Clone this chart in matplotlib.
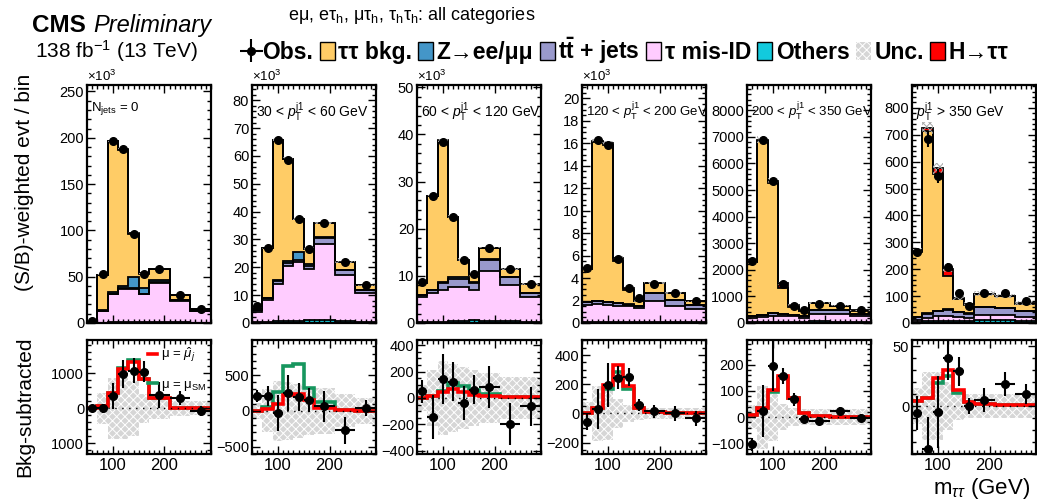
import numpy as np
import matplotlib
matplotlib.use('Agg')
import matplotlib.pyplot as plt
from matplotlib.patches import Patch
from matplotlib.lines import Line2D
from matplotlib.ticker import MultipleLocator, FuncFormatter

plt.rcParams['font.family'] = ['Liberation Sans', 'DejaVu Sans']
plt.rcParams['mathtext.fontset'] = 'custom'
plt.rcParams['mathtext.rm'] = 'Liberation Sans'
plt.rcParams['mathtext.it'] = 'Liberation Sans:italic'
plt.rcParams['mathtext.bf'] = 'Liberation Sans:bold'
plt.rcParams['hatch.linewidth'] = 0.7

# m_tautau binning (GeV)
edges = np.array([50, 70, 90, 110, 130, 150, 170, 210, 250, 290])

panel_labels = [r'N$_{\rm jets}$ = 0',
                r'30 < $p_{\rm T}^{\rm j1}$ < 60 GeV',
                r'60 < $p_{\rm T}^{\rm j1}$ < 120 GeV',
                r'120 < $p_{\rm T}^{\rm j1}$ < 200 GeV',
                r'200 < $p_{\rm T}^{\rm j1}$ < 350 GeV',
                r'$p_{\rm T}^{\rm j1}$ > 350 GeV']
label_size = [9.5, 10, 10, 9.5, 9.5, 10]
scaled = [True, True, True, True, False, False]   # panels drawn in units of 10^3
top_ymax = [257, 85.5, 50.5, 21.2, 8950, 885]
top_major = [50, 10, 10, 2, 1000, 100]
top_minor = [10, 2, 2, 0.5, 200, 20]

# ---- upper panels: (S/B)-weighted stacked backgrounds ----
others = [[0.3, 0.5, 0.8, 1.0, 1.2, 1.5, 1.2, 0.8, 0.5],
          [0.3, 0.5, 0.7, 0.8, 0.8, 0.9, 1.2, 0.7, 0.5],
          [0.2, 0.3, 0.3, 0.4, 0.5, 0.6, 0.5, 0.4, 0.3],
          [0.05, 0.05, 0.06, 0.07, 0.08, 0.1, 0.12, 0.08, 0.06],
          [20, 25, 30, 30, 30, 40, 60, 50, 30],
          [5, 6, 7, 8, 8, 8, 12, 10, 8]]
misid = [[0.5, 12.0, 30.2, 35.5, 35.8, 29.5, 41.8, 23.2, 12.0],
         [3.7, 7.9, 13.4, 19.7, 21.2, 18.4, 27.3, 16.6, 10.2],
         [5.4, 6.0, 6.8, 7.3, 7.2, 6.4, 10.5, 7.6, 5.2],
         [1.58, 1.64, 1.57, 1.47, 1.40, 1.23, 1.80, 1.40, 1.22],
         [170, 200, 245, 220, 220, 150, 280, 290, 220],
         [5, 12, 18, 18, 14, 10, 19, 18, 14]]
ttbar = [[0.1, 0.5, 0.8, 1.0, 1.0, 0.8, 1.2, 0.8, 0.5],
         [0.5, 0.6, 0.9, 1.0, 0.8, 1.0, 2.0, 1.7, 1.1],
         [0.3, 0.7, 1.3, 1.7, 1.7, 1.5, 2.4, 1.8, 0.9],
         [0.21, 0.24, 0.21, 0.24, 0.15, 0.15, 0.75, 0.59, 0.35],
         [60, 88, 100, 90, 63, 60, 160, 160, 90],
         [12, 17, 19, 24, 18, 17, 28, 27, 21]]
zll = [[0.1, 0.5, 1.2, 2.5, 12.0, 5.5, 1.8, 0.5, 0.5],
       [0.1, 0.1, 0.3, 0.8, 2.7, 0.9, 0.3, 0.1, 0.1],
       [0.05, 0.1, 0.2, 0.3, 0.4, 0.2, 0.1, 0.05, 0.05],
       [0.02, 0.02, 0.03, 0.04, 0.05, 0.04, 0.02, 0.01, 0.01],
       [5, 5, 5, 5, 5, 5, 5, 5, 5],
       [1, 1, 1, 1, 1, 1, 1, 1, 1]]
tautau = [[0.5, 38.5, 163.0, 147.0, 46.0, 15.7, 12.0, 4.7, 1.5],
          [0.9, 17.9, 50.5, 36.5, 11.8, 5.4, 5.2, 2.9, 1.6],
          [2.55, 19.9, 30.1, 12.8, 3.6, 1.5, 2.5, 1.65, 1.75],
          [2.94, 14.2, 13.98, 3.68, 1.27, 0.4, 0.86, 0.59, 0.31],
          [2025, 6542, 4870, 985, 282, 185, 240, 145, 125],
          [242, 679, 508, 123, 47, 32, 48, 44, 28]]
higgs = [[0.0, 0.07, 0.43, 1.11, 1.31, 0.83, 0.29, 0.0, 0.0],
         [0.0, 0.03, 0.1, 0.22, 0.23, 0.15, 0.05, 0.01, 0.0],
         [0.0, 0.01, 0.05, 0.07, 0.04, 0.03, 0.01, 0.0, 0.0],
         [0.01, 0.04, 0.2, 0.33, 0.19, 0.035, 0.01, 0.0, 0.0],
         [9, 34, 105, 158, 73, 15, 5, 2, 2],
         [4, 10, 22, 25, 6, 3, 1.5, 1, 1]]
unc_top = [[0.1, 0.5, 1.0, 1.0, 0.8, 0.5, 0.4, 0.3, 0.2],
           [0.1, 0.3, 0.5, 0.5, 0.4, 0.4, 0.4, 0.3, 0.2],
           [0.1, 0.2, 0.3, 0.3, 0.3, 0.2, 0.2, 0.2, 0.2],
           [0.08, 0.2, 0.2, 0.1, 0.06, 0.05, 0.05, 0.05, 0.05],
           [45, 120, 90, 50, 35, 30, 30, 30, 30],
           [10, 22, 20, 10, 8, 7, 8, 8, 7]]
obs = [[2.0, 53, 197, 188, 96, 53, 58, 30, 15],
       [6.0, 27.1, 65.7, 58.7, 37.3, 26.5, 36.1, 22.0, 13.5],
       [8.7, 27.0, 38.5, 22.5, 13.4, 10.3, 16.0, 11.4, 8.2],
       [4.9, 16.3, 15.85, 5.7, 3.1, 2.2, 3.5, 2.7, 2.0],
       [2320, 6900, 5355, 1480, 650, 475, 730, 635, 480],
       [265, 683, 547, 207, 111, 62, 111, 111, 81]]
obs_err = [[0.1, 0.3, 0.5, 0.5, 0.4, 0.3, 0.3, 0.2, 0.2],
           [0.1, 0.2, 0.3, 0.3, 0.25, 0.2, 0.2, 0.2, 0.15],
           [0.1, 0.2, 0.25, 0.2, 0.15, 0.12, 0.15, 0.12, 0.1],
           [0.08, 0.15, 0.15, 0.1, 0.07, 0.05, 0.06, 0.05, 0.05],
           [40, 90, 90, 35, 25, 20, 20, 20, 20],
           [15, 30, 25, 15, 11, 9, 11, 11, 9]]

# ---- lower panels: background-subtracted ----
sub_obs = [[0, 0, 350, 980, 1080, 1050, 380, 290, -80],
           [210, 210, -30, 250, 195, 150, 65, -270, 40],
           [50, -143, 143, 125, -38, 63, 83, -200, -63],
           [-57, 30, 195, 245, 250, 57, 16, 0, -34],
           [-103, 24, 196, 158, 69, -8, -14, 24, -3],
           [-6, -36, -5, 40, 29, 0, 5, 18, 10]]
sub_err = [[60, 120, 380, 400, 360, 300, 380, 200, 150],
           [80, 140, 250, 250, 200, 170, 220, 190, 110],
           [90, 165, 190, 150, 130, 110, 160, 160, 150],
           [60, 140, 150, 80, 60, 40, 45, 50, 50],
           [25, 100, 95, 30, 25, 15, 15, 15, 15],
           [14, 27, 30, 18, 12, 7, 10, 10, 8]]
sig_fit = [[0, 70, 430, 1110, 1310, 830, 290, 0, 0],
           [0, 30, 95, 220, 230, 150, 45, 10, 5],
           [0, 13, 45, 68, 43, 25, 13, 5, 5],
           [5, 40, 195, 330, 190, 35, 10, 0, 0],
           [9, 34, 105, 158, 73, 15, 5, 2, 2],
           [4, 7, 23, 30, 13, 3, 1.5, 1, 1]]
sig_sm = [[0, 70, 430, 1150, 1370, 850, 300, 0, 0],
          [0, 55, 260, 630, 660, 325, 125, 10, 5],
          [0, 13, 55, 113, 88, 63, 33, 5, 5],
          [5, 40, 165, 285, 165, 35, 10, 0, 0],
          [9, 34, 95, 150, 73, 15, 5, 2, 2],
          [4, 7, 19.5, 25, 11, 3, 1.5, 1, 1]]
unc_bkg = [[30, 450, 870, 880, 780, 420, 300, 220, 200],
           [115, 300, 420, 400, 380, 330, 320, 230, 180],
           [100, 210, 280, 260, 235, 210, 190, 160, 160],
           [75, 190, 180, 100, 60, 45, 40, 40, 40],
           [45, 120, 90, 50, 35, 30, 30, 30, 30],
           [15, 28, 28, 20, 12, 10, 10, 10, 10]]
bot_ylim = [(-1300, 1950), (-600, 990), (-425, 440), (-278, 503), (-141, 295), (-40, 55)]
bot_major = [1000, 500, 200, 200, 100, 50]
bot_minor = [200, 100, 50, 50, 20, 10]

c_tautau = '#ffcc66'
c_zll = '#4496c8'
c_tt = '#9999cc'
c_misid = '#ffccff'
c_other = '#12cadd'
c_higgs = '#ff0000'
c_sm = '#16965e'
c_unc = '#d6d6d6'
stack_colors = [c_other, c_misid, c_tt, c_zll, c_tautau, c_higgs]

W, H = 1037, 500
fig = plt.figure(figsize=(W / 100, H / 100), dpi=100)

centers = 0.5 * (edges[1:] + edges[:-1])
widths = np.diff(edges)


def style_axis(ax):
    ax.set_xlim(edges[0], edges[-1])
    ax.xaxis.set_major_locator(MultipleLocator(100))
    ax.xaxis.set_minor_locator(MultipleLocator(10))
    ax.tick_params(which='both', direction='in', top=True, right=True)
    ax.tick_params(which='major', length=6, width=1)
    ax.tick_params(which='minor', length=3, width=1)
    for sp in ax.spines.values():
        sp.set_linewidth(1.6)


obs_handle = None
for i in range(6):
    left = (87 + 165 * i) / W
    ax = fig.add_axes([left, 0.354, 124 / W, 0.476])
    layers = [others[i], misid[i], ttbar[i], zll[i], tautau[i], higgs[i]]
    base = np.zeros(len(centers))
    tops = []
    for vals, col in zip(layers, stack_colors):
        top = base + np.array(vals)
        ax.stairs(top, edges, baseline=base, fill=True, color=col, lw=0)
        tops.append(top)
        base = top
    for top in tops:
        ax.stairs(top, edges, baseline=None, color='k', lw=1.3)
    u = np.array(unc_top[i])
    ax.bar(edges[:-1], 2 * u, width=widths, bottom=base - u, align='edge',
           facecolor='none', edgecolor='#a8a8a8', hatch='xxxxx', lw=0)
    ax.errorbar(centers, obs[i], yerr=obs_err[i], fmt='o', color='k',
                ms=5.5, elinewidth=1.5, capsize=0)
    style_axis(ax)
    ax.set_ylim(0, top_ymax[i])
    ax.yaxis.set_major_locator(MultipleLocator(top_major[i]))
    ax.yaxis.set_minor_locator(MultipleLocator(top_minor[i]))
    ax.tick_params(labelbottom=False, labelsize=10.5, pad=2)
    ax.text(0.035, 0.935, panel_labels[i], transform=ax.transAxes, ha='left',
            va='top', fontsize=label_size[i], clip_on=True)
    if scaled[i]:
        ax.text(0.0, 1.005, '×10$^{3}$', transform=ax.transAxes,
                ha='left', va='bottom', fontsize=9.5)

    # lower panel
    ax2 = fig.add_axes([left, 0.092, 124 / W, 0.228])
    ub = np.array(unc_bkg[i])
    ax2.bar(edges[:-1], 2 * ub, width=widths, bottom=-ub, align='edge',
            facecolor=c_unc, edgecolor='white', hatch='xxxx', lw=0)
    ax2.axhline(0, color='k', ls=(0, (1, 4)), lw=1)
    ax2.stairs(sig_sm[i], edges, baseline=None, color=c_sm, lw=2.6)
    ax2.stairs(sig_fit[i], edges, baseline=None, color=c_higgs, lw=2.6)
    eb = ax2.errorbar(centers, sub_obs[i], yerr=sub_err[i], xerr=widths / 2,
                      fmt='o', color='k', ms=5.5, elinewidth=1.5, capsize=0)
    if obs_handle is None:
        obs_handle = eb
    style_axis(ax2)
    ax2.set_ylim(*bot_ylim[i])
    ax2.yaxis.set_major_locator(MultipleLocator(bot_major[i]))
    ax2.yaxis.set_minor_locator(MultipleLocator(bot_minor[i]))
    ax2.tick_params(axis='y', labelsize=10.5, pad=2)
    ax2.tick_params(axis='x', labelsize=12, pad=3)
    if i == 0:
        ax2.yaxis.set_major_formatter(FuncFormatter(lambda v, p: f'{abs(v):.0f}'))
        ax2.legend([Line2D([], [], color=c_higgs, lw=2.6),
                    Line2D([], [], color=c_sm, lw=2.6)],
                   [r'μ = $\hat{μ}_{j}$', r'μ = μ$_{\rm SM}$'],
                   loc='upper right', bbox_to_anchor=(1.03, 1.02), frameon=False,
                   fontsize=9.5, handlelength=0.7, handletextpad=0.3,
                   labelspacing=1.1, borderaxespad=0.2)

# header
fig.text(32 / W, 1 - 32 / H, 'CMS', fontsize=17.5, weight='bold', va='baseline')
fig.text(93 / W, 1 - 32 / H, 'Preliminary', fontsize=17, style='italic', va='baseline')
fig.text(35 / W, 1 - 58 / H, r'138 fb$^{-1}$ (13 TeV)', fontsize=15, va='baseline')
fig.text(288 / W, 1 - 15 / H,
         'eμ, eτ$_{\\rm h}$, μτ$_{\\rm h}$, τ$_{\\rm h}$τ$_{\\rm h}$: all categories',
         fontsize=13, va='center')

handles = [obs_handle,
           Patch(facecolor=c_tautau, edgecolor='k', lw=1),
           Patch(facecolor=c_zll, edgecolor='k', lw=1),
           Patch(facecolor=c_tt, edgecolor='k', lw=1),
           Patch(facecolor=c_misid, edgecolor='k', lw=1),
           Patch(facecolor=c_other, edgecolor='k', lw=1),
           Patch(facecolor=c_unc, edgecolor='white', hatch='xxxx', lw=0),
           Patch(facecolor=c_higgs, edgecolor='k', lw=1)]
labels = ['Obs.', 'ττ bkg.', 'Z→ee/μμ', r'$\mathbf{t\bar{t}}$ + jets',
          'τ mis-ID', 'Others', 'Unc.', 'H→ττ']
fig.legend(handles, labels, loc='center left', bbox_to_anchor=(244 / W, 1 - 51 / H),
           ncol=8, frameon=False, prop={'weight': 'bold', 'size': 16.5},
           handlelength=0.65, handleheight=0.8, handletextpad=0.15,
           columnspacing=0.28, borderpad=0, borderaxespad=0)

fig.text(25 / W, 1 - 182 / H, '(S/B)-weighted evt / bin', rotation=90,
         fontsize=15, ha='center', va='center')
fig.text(25 / W, 1 - 407 / H, 'Bkg-subtracted', rotation=90,
         fontsize=15, ha='center', va='center')
fig.text(1030 / W, 1 - 494 / H, r'm$_{\tau\tau}$ (GeV)', fontsize=16,
         ha='right', va='baseline')

fig.savefig('out.png', dpi=100)
